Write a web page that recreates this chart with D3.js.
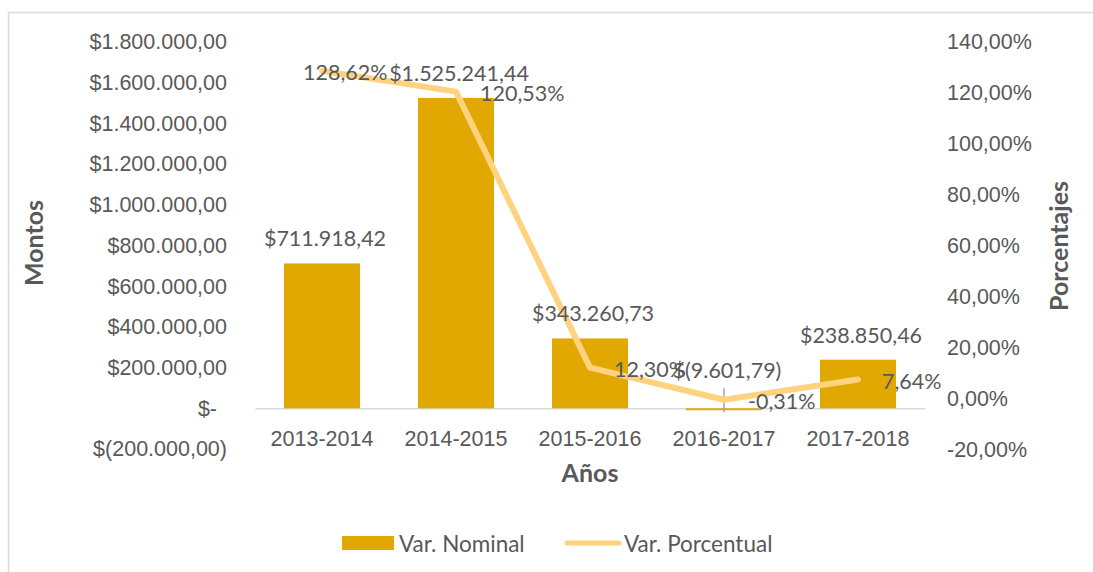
<!DOCTYPE html>
<html>
<head>
<meta charset="utf-8">
<script src="https://cdn.jsdelivr.net/npm/d3@7"></script>
<style>
  html, body { margin: 0; padding: 0; background: #fff; }
  svg { display: block; font-family: Lato, "Open Sans", sans-serif; }
</style>
</head>
<body>
<svg id="chart" width="1093" height="572"></svg>
<script>
// Periods and yearly variation values
const periods = ["2013-2014", "2014-2015", "2015-2016", "2016-2017", "2017-2018"];
const nominal = [711918.42, 1525241.44, 343260.73, -9601.79, 238850.46];
const percent = [1.2862, 1.2053, 0.1230, -0.0031, 0.0764];
const leftTicks = [-200000, 0, 200000, 400000, 600000, 800000, 1000000, 1200000, 1400000, 1600000, 1800000];
const rightTicks = [-0.2, 0, 0.2, 0.4, 0.6, 0.8, 1.0, 1.2, 1.4];
const seriesNames = ["Var. Nominal", "Var. Porcentual"];

// Horizontal nudges for the percentage labels (px from the point)
const pctLabelDx = [-19, 24, 24, 24, 24];

const BAR = "#E0A800";
const LINE = "#FFD27F";
const TEXT = "#595959";
const FS = 21.5;
const TITLE_FS = 25;
const LEGEND_FS = 22.5;

const svg = d3.select("#chart");

// Outer frame
svg.append("rect")
  .attr("x", 8.5).attr("y", 12.5)
  .attr("width", 1200).attr("height", 700)
  .attr("fill", "none").attr("stroke", "#d9d9d9").attr("stroke-width", 1.5);

const plot = { left: 255, right: 925, top: 42, bottom: 449 };

const x = d3.scaleBand().domain(periods)
  .range([plot.left, plot.right]).paddingInner(0.433).paddingOuter(0.2165);
const yL = d3.scaleLinear().domain([-200000, 1800000]).range([plot.bottom, plot.top]);
const yR = d3.scaleLinear().domain([-0.2, 1.4]).range([450, 42]);

const loc = d3.formatLocale({ decimal: ",", thousands: ".", grouping: [3], currency: ["$", ""], minus: "-" });
const num = loc.format(",.2f");
const money = v => v === 0 ? "$-" : (v < 0 ? "$(" + num(-v) + ")" : "$" + num(v));
const pct = v => num(v * 100) + "%";

// Left axis (amounts)
const gL = svg.append("g").attr("transform", `translate(${plot.left},0)`)
  .call(d3.axisLeft(yL).tickValues(leftTicks).tickFormat(money).tickSize(0).tickPadding(28));
gL.select(".domain").remove();
gL.selectAll("text").attr("fill", TEXT).style("font-size", FS + "px").style("font-family", null);
// accounting-style zero sits slightly left of the column edge
gL.selectAll(".tick text").filter(d => d === 0).attr("dx", -10);

// Right axis (percentages)
const gR = svg.append("g").attr("transform", `translate(${plot.right},0)`)
  .call(d3.axisRight(yR).tickValues(rightTicks).tickFormat(pct).tickSize(0).tickPadding(22));
gR.select(".domain").remove();
gR.selectAll("text").attr("fill", TEXT).style("font-size", FS + "px").style("font-family", null);

// Category axis
const gX = svg.append("g").attr("transform", `translate(0,${yL(0)})`)
  .call(d3.axisBottom(x).tickSize(0).tickPadding(22));
gX.select(".domain").attr("stroke", "#d9d9d9").attr("stroke-width", 1.5);
gX.selectAll("text").attr("fill", TEXT).style("font-size", FS + "px").style("font-family", null);

// Bars
svg.append("g").selectAll("rect").data(nominal).join("rect")
  .attr("x", (d, i) => x(periods[i]))
  .attr("width", x.bandwidth())
  .attr("y", d => yL(Math.max(0, d)))
  .attr("height", d => Math.abs(yL(d) - yL(0)))
  .attr("fill", BAR);

const cx = i => x(periods[i]) + x.bandwidth() / 2;

// Small marker on the negative period
svg.append("g").selectAll("line")
  .data(nominal.map((d, i) => ({ d, i })).filter(o => o.d < 0)).join("line")
  .attr("x1", o => cx(o.i)).attr("x2", o => cx(o.i))
  .attr("y1", o => yL(0) - 20).attr("y2", o => yL(o.d) + 2)
  .attr("stroke", "#a6a6a6").attr("stroke-width", 1.5);

// Percentage line
svg.append("path")
  .datum(percent)
  .attr("d", d3.line().x((d, i) => cx(i)).y(d => yR(d)))
  .attr("fill", "none").attr("stroke", LINE).attr("stroke-width", 6)
  .attr("stroke-linejoin", "round").attr("stroke-linecap", "round");

// Bar value labels
svg.append("g").selectAll("text").data(nominal).join("text")
  .attr("x", (d, i) => cx(i) + 3)
  .attr("y", d => d >= 0 ? yL(d) - 25 : yL(0) - 38)
  .attr("text-anchor", "middle").attr("dominant-baseline", "central")
  .attr("fill", TEXT).style("font-size", FS + "px")
  .text(money);

// Percentage labels
svg.append("g").selectAll("text").data(percent).join("text")
  .attr("x", (d, i) => cx(i) + pctLabelDx[i])
  .attr("y", d => yR(d) + 1)
  .attr("text-anchor", "start").attr("dominant-baseline", "central")
  .attr("fill", TEXT).style("font-size", FS + "px")
  .text(pct);

// Axis titles
svg.append("text").attr("x", (plot.left + plot.right) / 2).attr("y", 472)
  .attr("text-anchor", "middle").attr("dominant-baseline", "central")
  .attr("fill", TEXT).style("font-size", TITLE_FS + "px").style("font-weight", "bold").text("Años");
svg.append("text").attr("transform", "translate(33,243) rotate(-90)")
  .attr("text-anchor", "middle").attr("dominant-baseline", "central")
  .attr("fill", TEXT).style("font-size", TITLE_FS + "px").style("font-weight", "bold").text("Montos");
svg.append("text").attr("transform", "translate(1058,246) rotate(-90)")
  .attr("text-anchor", "middle").attr("dominant-baseline", "central")
  .attr("fill", TEXT).style("font-size", TITLE_FS + "px").style("font-weight", "bold").text("Porcentajes");

// Legend
const lg = svg.append("g");
lg.append("rect").attr("x", 342).attr("y", 536).attr("width", 52).attr("height", 14).attr("fill", BAR);
lg.append("text").attr("x", 399).attr("y", 543).attr("dominant-baseline", "central")
  .attr("fill", TEXT).style("font-size", LEGEND_FS + "px").text(seriesNames[0]);
lg.append("line").attr("x1", 567).attr("x2", 619).attr("y1", 543).attr("y2", 543)
  .attr("stroke", LINE).attr("stroke-width", 5).attr("stroke-linecap", "round");
lg.append("text").attr("x", 624).attr("y", 543).attr("dominant-baseline", "central")
  .attr("fill", TEXT).style("font-size", LEGEND_FS + "px").text(seriesNames[1]);
</script>
</body>
</html>
